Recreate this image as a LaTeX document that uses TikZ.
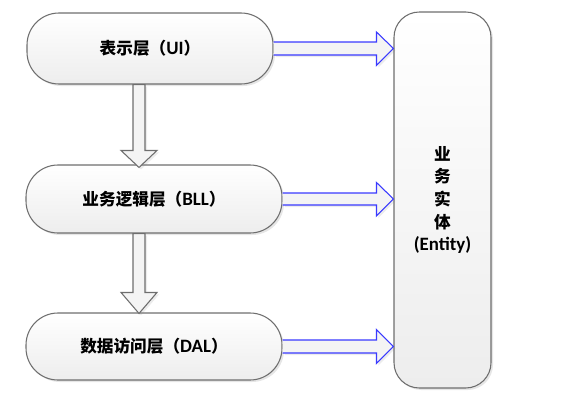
\documentclass[tikz,border=0pt]{standalone}
\usepackage{fontspec}
\setmainfont{Carlito}[BoldFont={Carlito Bold},Scale=1.18]
\newfontfamily\cjk{Noto Sans CJK SC}[Scale=1.04]
\usetikzlibrary{shadows,calc}
\definecolor{edge}{HTML}{6e6e6e}
\definecolor{arr}{HTML}{3a3aff}
\definecolor{lt}{HTML}{ededed}
\newcommand\zh[1]{{\cjk #1}}

\begin{document}
\begin{tikzpicture}[x=0.75pt,y=-0.75pt,
    layer/.style={draw=edge,line width=0.8pt,rounded corners=24pt,top color=white,bottom color=lt,
      drop shadow={opacity=0.2,shadow xshift=1.5pt,shadow yshift=-1.5pt},
      font=\fontsize{12}{17}\selectfont\bfseries,inner sep=0pt},
    blk/.style={draw=arr,line width=0.8pt,fill=lt!60!white,line join=miter,
      drop shadow={opacity=0.15,shadow xshift=1.5pt,shadow yshift=-1.5pt}},
    dn/.style={draw=edge,line width=0.8pt,fill=lt!60!white,
      drop shadow={opacity=0.15,shadow xshift=1.5pt,shadow yshift=-1.5pt}}]
  \useasboundingbox (0,0) rectangle (584,418);
  % layers
  \node[layer,minimum width=184.5pt,minimum height=53.25pt] (ui) at (150,48.5) {\zh{表示层（}UI\zh{）}};
  \node[layer,minimum width=192pt,minimum height=51pt] (bll) at (154,199) {\zh{业务逻辑层（}BLL\zh{）}};
  \node[layer,minimum width=192pt,minimum height=50.25pt] (dal) at (154,346.5) {\zh{数据访问层（}DAL\zh{）}};
  \node[layer,rounded corners=19pt,minimum width=72.75pt,minimum height=282pt,align=center] (ent) at (442.5,200)
    {\zh{业}\\\zh{务}\\\zh{实}\\\zh{体}\\(Entity)};
  % down arrows
  \coordinate (d1) at (139,0 |- ui.south);
  \coordinate (d2) at (139,0 |- bll.north);
  \draw[dn] ($(d1)+(-6,0)$) -- ($(d2)+(-6,-14)$) -- ($(d2)+(-18,-14)$) -- ($(d2)+(0,3)$)
    -- ($(d2)+(18,-14)$) -- ($(d2)+(6,-14)$) -- ($(d1)+(6,0)$) -- cycle;
  \coordinate (d3) at (139,0 |- bll.south);
  \coordinate (d4) at (139,0 |- dal.north);
  \draw[dn] ($(d3)+(-6,0)$) -- ($(d4)+(-6,-20)$) -- ($(d4)+(-18,-20)$) -- ($(d4)+(0,1)$)
    -- ($(d4)+(18,-20)$) -- ($(d4)+(6,-20)$) -- ($(d3)+(6,0)$) -- cycle;
  % arrows to entity
  \coordinate (e1) at (ent.west |- ui.east);
  \draw[blk] ($(ui.east)+(0,-6.5)$) -- ($(e1)+(-17,-6.5)$) -- ($(e1)+(-17,-16.5)$) -- (e1)
    -- ($(e1)+(-17,17)$) -- ($(e1)+(-17,6.5)$) -- ($(ui.east)+(0,6.5)$);
  \coordinate (e2) at (ent.west |- bll.east);
  \draw[blk] ($(bll.east)+(0,-6)$) -- ($(e2)+(-17,-6)$) -- ($(e2)+(-17,-16.5)$) -- (e2)
    -- ($(e2)+(-17,17)$) -- ($(e2)+(-17,6)$) -- ($(bll.east)+(0,6)$);
  \coordinate (e3) at (ent.west |- dal.east);
  \draw[blk] ($(dal.east)+(0,-6.5)$) -- ($(e3)+(-17,-6.5)$) -- ($(e3)+(-17,-17)$) -- (e3)
    -- ($(e3)+(-17,17)$) -- ($(e3)+(-17,6.5)$) -- ($(dal.east)+(0,6.5)$);
\end{tikzpicture}
\end{document}
